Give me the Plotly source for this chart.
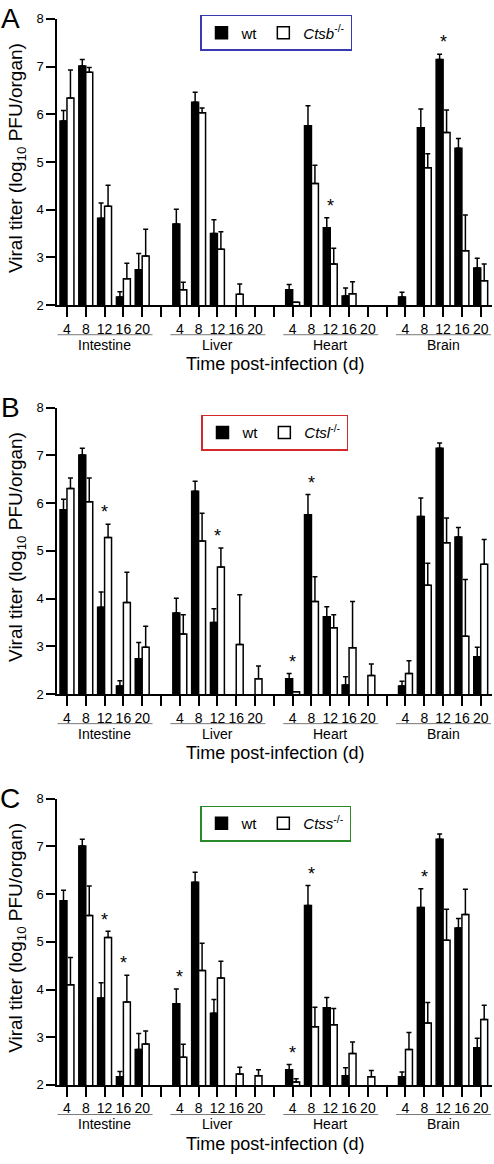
import plotly.graph_objects as go

# ---------------- data ----------------
days = [4, 8, 12, 16, 20]
organs = ["Intestine", "Liver", "Heart", "Brain"]
panels = ["A", "B", "C"]
ko_names = ["<i>Ctsb</i><sup>-/-</sup>", "<i>Ctsl</i><sup>-/-</sup>", "<i>Ctss</i><sup>-/-</sup>"]

# values ordered organ-major: Intestine 4..20, Liver 4..20, Heart 4..20, Brain 4..20
wt_mean = [5.86, 7.01, 3.82, 2.17, 2.74,
           3.70, 6.25, 3.50, None, None,
           2.32, 5.76, 3.62, 2.19, None,
           2.17, 5.72, 7.15, 5.29, 2.78]
wt_sem = [0.22, 0.14, 0.32, 0.11, 0.34,
          0.31, 0.21, 0.29, 0, 0,
          0.11, 0.42, 0.21, 0.17, 0,
          0.10, 0.39, 0.11, 0.20, 0.20]

ctsb_mean = [6.34, 6.88, 4.07, 2.55, 3.03,
             2.32, 6.03, 3.17, 2.23, None,
             2.06, 4.55, 2.86, 2.24, None,
             None, 4.88, 5.62, 3.14, 2.51]
ctsb_sem = [0.59, 0.10, 0.44, 0.33, 0.56,
            0.16, 0.10, 0.37, 0.21, 0,
            0, 0.38, 0.33, 0.25, 0,
            0, 0.29, 0.47, 0.75, 0.35]

ctsl_mean = [6.31, 6.03, 5.28, 3.92, 2.98,
             3.26, 5.21, 4.66, 3.04, 2.32,
             2.05, 3.94, 3.39, 2.97, 2.39,
             2.43, 4.28, 5.17, 3.21, 4.72]
ctsl_sem = [0.22, 0.50, 0.28, 0.63, 0.44,
            0.40, 0.58, 0.40, 1.04, 0.27,
            0, 0.52, 0.27, 0.97, 0.24,
            0.27, 0.46, 0.52, 1.19, 0.52]

ctss_mean = [4.10, 5.55, 5.09, 3.74, 2.86,
             2.58, 4.40, 4.24, 2.23, 2.19,
             2.06, 3.22, 3.26, 2.66, 2.17,
             2.74, 3.30, 5.03, 5.57, 3.37]
ctss_sem = [0.57, 0.62, 0.13, 0.56, 0.27,
            0.27, 0.57, 0.35, 0.14, 0.13,
            0.07, 0.41, 0.34, 0.24, 0.13,
            0.36, 0.43, 0.65, 0.53, 0.30]

# significance flags (1 = asterisk), same ordering
ctsb_sig = [0, 0, 0, 0, 0,  0, 0, 0, 0, 0,  0, 0, 1, 0, 0,  0, 0, 1, 0, 0]
ctsl_sig = [0, 0, 1, 0, 0,  0, 0, 1, 0, 0,  1, 1, 0, 0, 0,  0, 0, 0, 0, 0]
ctss_sig = [0, 0, 1, 1, 0,  1, 0, 0, 0, 0,  1, 1, 0, 0, 0,  0, 1, 0, 0, 0]

ko_means = [ctsb_mean, ctsl_mean, ctss_mean]
ko_sems = [ctsb_sem, ctsl_sem, ctss_sem]
ko_sigs = [ctsb_sig, ctsl_sig, ctss_sig]

# ---------------- layout helpers ----------------
W, H = 494, 1164
FONT = "Liberation Sans, Arial, Helvetica, sans-serif"


def px(x):
    return x / W


def py(y):
    return 1 - y / H


plot_left, plot_right = 57, 492
panel_tops = [12, 406, 802]
plot_h = 290
legend_pos = [(200, 8, "#3a3ab0"), (201, 413, "#d22a2a"), (200, 809, "#2a8a2a")]

# x slot for each organ/day
slot = []
for oi in range(len(organs)):
    for di in range(len(days)):
        slot.append(oi * 6 + di)

tickvals = [t for t in range(23) if t % 6 != 5]
ticktext = [str(days[t % 6]) for t in tickvals]
sepvals = [5, 11, 17]

fig = go.Figure()
annotations = []
shapes = []

for p in range(3):
    sfx = "" if p == 0 else str(p + 1)
    xa, ya = "x" + sfx, "y" + sfx
    leg = "legend" + sfx
    top = panel_tops[p]
    bottom = top + plot_h

    fig.add_trace(go.Bar(
        x=slot, y=wt_mean, name="wt", legend=leg,
        offset=-0.37, width=0.37,
        marker=dict(color="black", line=dict(color="black", width=1.5)),
        error_y=dict(type="data", array=wt_sem, arrayminus=[0] * len(wt_sem),
                     symmetric=False, color="black", thickness=1.5, width=2.5),
        xaxis=xa, yaxis=ya,
    ))
    fig.add_trace(go.Bar(
        x=slot, y=ko_means[p], name=ko_names[p], legend=leg,
        offset=0.0, width=0.37,
        marker=dict(color="white", line=dict(color="black", width=1.5)),
        error_y=dict(type="data", array=ko_sems[p], arrayminus=[0] * len(ko_sems[p]),
                     symmetric=False, color="black", thickness=1.5, width=2.5),
        xaxis=xa, yaxis=ya,
    ))

    fig.layout["xaxis" + sfx] = dict(
        domain=[px(plot_left), px(plot_right)], anchor=ya,
        range=[-0.53, 22.6], tickmode="array", tickvals=tickvals, ticktext=ticktext,
        ticks="outside", ticklen=10, tickwidth=1.5, tickcolor="black",
        showline=True, linecolor="black", linewidth=1.5,
        showgrid=False, zeroline=False, tickfont=dict(size=14, color="black", family=FONT),
        fixedrange=True,
        minor=dict(tickmode="array", tickvals=sepvals, ticks="outside", ticklen=10,
                   tickwidth=1.5, tickcolor="black", showgrid=False),
    )
    fig.layout["yaxis" + sfx] = dict(
        domain=[py(bottom), py(top)], anchor=xa,
        range=[2, 8], tickmode="array", tickvals=[2, 3, 4, 5, 6, 7, 8],
        ticks="outside", ticklen=9, tickwidth=1.5, tickcolor="black",
        showline=True, linecolor="black", linewidth=1.5,
        showgrid=False, zeroline=False, tickfont=dict(size=13, color="black", family=FONT),
        fixedrange=True,
    )

    lx, ly, lcol = legend_pos[p]
    fig.layout[leg] = dict(
        x=px(lx), y=py(ly), xanchor="left", yanchor="top", orientation="h",
        bordercolor=lcol, borderwidth=1.5, bgcolor="white",
        font=dict(size=15, color="black", family=FONT),
        itemclick=False, itemdoubleclick=False, tracegroupgap=0,
    )

    # panel letter
    annotations.append(dict(x=px(10), y=py(top), xref="paper", yref="paper",
                            text=panels[p], showarrow=False,
                            font=dict(size=28, color="black", family=FONT),
                            xanchor="center", yanchor="middle"))
    # y title
    annotations.append(dict(x=px(17), y=py(top + 141), xref="paper", yref="paper",
                            text="Viral titer (log<sub>10</sub> PFU/organ)", textangle=-90,
                            showarrow=False, font=dict(size=19, color="black", family=FONT),
                            xanchor="center", yanchor="middle"))
    # organ labels and underlines
    for oi, organ in enumerate(organs):
        annotations.append(dict(x=oi * 6 + 2, y=py(bottom + 40), xref=xa, yref="paper",
                                text=organ, showarrow=False,
                                font=dict(size=14, color="black", family=FONT),
                                xanchor="center", yanchor="middle"))
        shapes.append(dict(type="line", xref=xa, yref="paper",
                           x0=oi * 6 - 0.5, x1=oi * 6 + 4.55,
                           y0=py(bottom + 30), y1=py(bottom + 30),
                           line=dict(color="#777777", width=1)))
    # x title
    annotations.append(dict(x=px((plot_left + plot_right) / 2), y=py(bottom + 60),
                            xref="paper", yref="paper", text="Time post-infection (d)",
                            showarrow=False, font=dict(size=18, color="black", family=FONT),
                            xanchor="center", yanchor="middle"))
    # asterisks
    for i, s in enumerate(ko_sigs[p]):
        if s:
            tops = []
            if wt_mean[i] is not None:
                tops.append(wt_mean[i] + wt_sem[i])
            if ko_means[p][i] is not None:
                tops.append(ko_means[p][i] + ko_sems[p][i])
            annotations.append(dict(x=slot[i], y=max(tops) + 0.35, xref=xa, yref=ya,
                                    text="*", showarrow=False, yshift=-5,
                                    font=dict(size=18, color="black", family=FONT),
                                    xanchor="center", yanchor="middle"))

fig.update_layout(
    width=W, height=H,
    margin=dict(l=0, r=0, t=0, b=0),
    paper_bgcolor="white", plot_bgcolor="white",
    font=dict(family=FONT, color="black"),
    barmode="overlay",
    annotations=annotations, shapes=shapes,
    showlegend=True,
)

fig.write_html("out.html", config={"displayModeBar": False},
               post_script="document.body.style.margin='0';document.body.style.padding='0';")
